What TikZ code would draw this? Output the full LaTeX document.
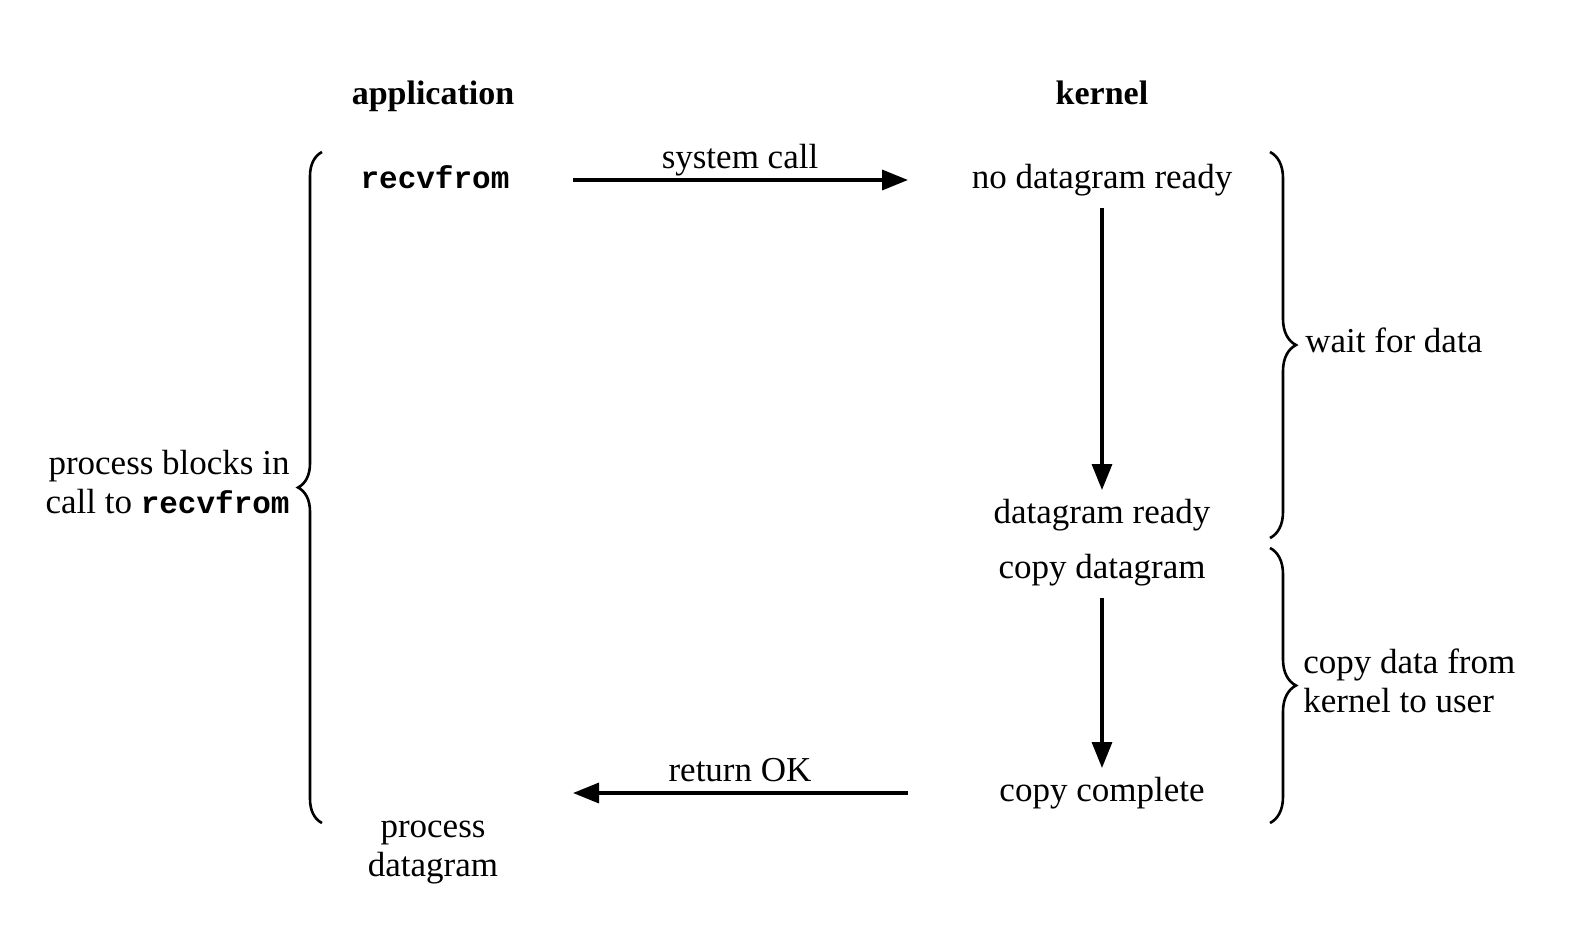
\documentclass[tikz,border=0pt]{standalone}
\usepackage{fontspec}
\setmainfont{Liberation Serif}
\setmonofont{Liberation Mono}
\usetikzlibrary{arrows.meta,decorations.pathreplacing}

\begin{document}
\begin{tikzpicture}[x=0.5pt,y=0.5pt,yscale=-1,xscale=1,
  lbl/.style={inner sep=0pt,font=\fontsize{17.5}{19.5}\selectfont,text height=12pt,text depth=4pt},
  lbltwo/.style={inner sep=0pt,font=\fontsize{17.5}{19.5}\selectfont},
  arr/.style={line width=1.7pt,-{Triangle[length=13pt,width=10pt]}},
  brc/.style={line width=1.3pt,decorate,decoration={brace,amplitude=12pt}}]
\useasboundingbox (0,0) rectangle (1592,928);

% Text Node
\node (app) at (433,96) [lbl,font=\fontsize{17}{19.5}\selectfont\bfseries] {application};
% Text Node
\node (ker) at (1102,96) [lbl,font=\fontsize{17}{19.5}\selectfont\bfseries] {kernel};
% Text Node
\node (recv) at (435,180) [lbl,font=\fontsize{15.5}{19.5}\selectfont\ttfamily\bfseries] {recvfrom};
% Text Node
\node (scl) at (740,160) [lbl] {system call};
% Text Node
\node (nodg) at (1102,180) [lbl] {no datagram ready};
% Text Node
\node (dgr) at (1102,515) [lbl] {datagram ready};
% Text Node
\node (cpd) at (1102,570) [lbl] {copy datagram};
% Text Node
\node (cpc) at (1102,793) [lbl] {copy complete};
% Text Node
\node (rok) at (740,773) [lbl] {return OK};
% Text Node
\node (pdg) at (433,853) [lbltwo,align=center] {process\\datagram};
% Text Node
\node (blk) at (290,482) [lbltwo,align=right,anchor=east] {process blocks in\\call to {\fontsize{15.5}{19.5}\selectfont\ttfamily\bfseries recvfrom}};
% Text Node
\node (wfd) at (1305,344) [lbl,anchor=west] {wait for data};
% Text Node
\node (cdk) at (1303,681) [lbltwo,align=left,anchor=west] {copy data from\\kernel to user};
\coordinate (rend) at (573,793);

%Straight Lines
\draw [arr,shorten <=69pt,shorten >=97pt] (recv.center) -- (nodg.center);
%Straight Lines
\draw [arr,shorten <=14pt,shorten >=12.5pt] (nodg.center) -- (dgr.center);
%Straight Lines
\draw [arr,shorten <=14pt,shorten >=12.5pt] (cpd.center) -- (cpc.center);
%Straight Lines
\draw [arr,shorten <=97pt] (cpc.center) -- (rend);

%Braces
\draw [brc] (322,823) -- (322,152);
\draw [brc,decoration={amplitude=13pt}] (1270,152) -- (1270,538);
\draw [brc,decoration={amplitude=13pt}] (1270,548) -- (1270,823);

\end{tikzpicture}
\end{document}
